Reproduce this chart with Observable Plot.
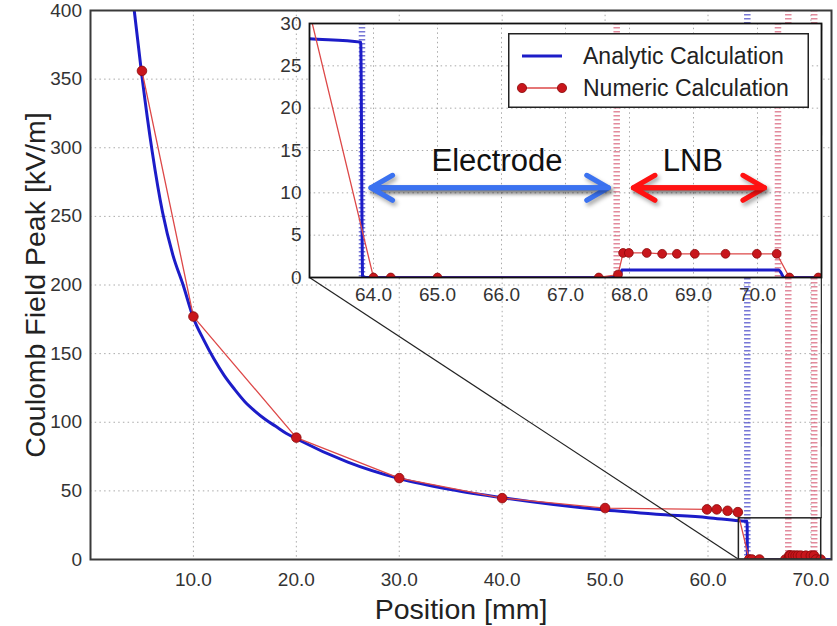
<!DOCTYPE html>
<html>
<head>
<meta charset="utf-8">
<script src="https://cdn.jsdelivr.net/npm/d3@7"></script>
<script src="https://cdn.jsdelivr.net/npm/@observablehq/plot@0.6"></script>
<style>
  html, body { margin: 0; padding: 0; background: white; }
  #wrap { position: relative; width: 837px; height: 626px; font-family: "Liberation Sans", Arial, Helvetica, sans-serif; }
  #wrap svg { position: absolute; }
</style>
</head>
<body>
<div id="wrap"></div>
<script>
// ---------- data ----------
const analyticX = [4.25, 5, 6, 7, 8, 9, 10, 11, 12, 13, 14, 15, 16, 17, 18, 19, 20, 25, 30, 35, 40, 45, 50, 55, 60, 63, 63.8, 63.83, 67.85, 67.88, 70.33, 70.42, 72];
const analyticY = [400, 352, 297, 253, 222, 200, 176, 160, 146, 134, 124, 115, 108, 102, 97, 92, 88, 71, 59, 51, 45, 40, 36, 33, 30.5, 28.2, 27.8, 0, 0, 0.9, 0.9, 0, 0];

const numericX = [5, 10, 20, 30, 40, 50, 59.9, 60.85, 61.9, 62.9, 64.0, 64.27, 65.0, 67.52, 67.82, 67.9, 67.99, 68.27, 68.51, 68.74, 69.02, 69.5, 69.99, 70.3, 70.5, 70.95];
const numericY = [356, 177, 88.8, 59.3, 44.7, 37.5, 36.5, 36.5, 35.5, 34.5, 0, 0, 0, 0, 0.35, 2.9, 2.9, 2.9, 2.8, 2.8, 2.8, 2.8, 2.8, 2.8, 0, 0];

const analyticBoundaries = [63.82];
const numericBoundaries = [67.8, 70.32];

const mainXTicks = [10, 20, 30, 40, 50, 60, 70];
const mainYTicks = [0, 50, 100, 150, 200, 250, 300, 350, 400];
const insetXTicks = [64, 65, 66, 67, 68, 69, 70];
const insetYTicks = [0, 5, 10, 15, 20, 25, 30];

const zoomX = [63, 71];
const zoomY = [0, 30];

const regionLabels = ["Electrode", "LNB"];
const regionLabelX = [65.93, 68.99];
const regionLabelY = [13.8, 13.8];
const arrowStart = [63.96, 68.06];
const arrowEnd = [67.67, 70.11];
const arrowY = [10.6, 10.6];
const arrowColors = ["#3b72f0", "#ff1212"];

const legendLabels = ["Analytic Calculation", "Numeric Calculation"];
const xLabel = "Position [mm]";
const yLabel = "Coulomb Field Peak [kV/m]";

// ---------- styles ----------
const FONT = '"Liberation Sans", Arial, Helvetica, sans-serif';
const BLUE = "#1c1cc8";
const RED_LINE = "#dd4848";
const RED_DOT = "#c8161c";
const GRID = {stroke: "#aaa", strokeOpacity: 1, strokeDasharray: "1.5,3.2", strokeWidth: 1};

const analytic = analyticX.map((x, i) => ({x, y: analyticY[i]}));
const numeric = numericX.map((x, i) => ({x, y: numericY[i]}));

// ---------- layout ----------
const W = 837, H = 626;
const M = {left: 90, right: 6, top: 10, bottom: 67};
const insetBox = {left: 250, top: 0, width: 587, height: 320, ml: 59, mr: 16, mt: 23, mb: 43};

const mainX = d3.scaleLinear([0, 72], [M.left, W - M.right]);
const mainY = d3.scaleLinear([0, 400], [H - M.bottom, M.top]);
// inset frame corners in page pixels -> main data coordinates
const inL = insetBox.left + insetBox.ml, inR = insetBox.left + insetBox.width - insetBox.mr;
const inT = insetBox.top + insetBox.mt, inB = insetBox.top + insetBox.height - insetBox.mb;
const connectors = [
  {x1: zoomX[0], y1: zoomY[0], x2: mainX.invert(inL), y2: mainY.invert(inB)},
  {x1: zoomX[1], y1: zoomY[1], x2: mainX.invert(inR), y2: mainY.invert(inT)}
];

function dashedRules(vals, color, op) {
  return Plot.ruleX(vals, {stroke: color, strokeOpacity: op, strokeWidth: 6.5, strokeDasharray: "1.6,2.4"});
}

const main = Plot.plot({
  width: W, height: H,
  marginLeft: M.left, marginRight: M.right, marginTop: M.top, marginBottom: M.bottom,
  x: {domain: [0, 72]},
  y: {domain: [0, 400]},
  style: {fontFamily: FONT, background: "white", color: "#333"},
  marks: [
    Plot.gridX(mainXTicks, GRID),
    Plot.gridY(mainYTicks.filter(d => d > 0 && d < 400), GRID),
    dashedRules(analyticBoundaries, "#4a4ac8", 0.75),
    dashedRules(numericBoundaries, "#d65a74", 0.7),
    Plot.line(analytic, {x: "x", y: "y", stroke: BLUE, strokeWidth: 3, curve: "monotone-x", clip: true}),
    Plot.line(numeric, {x: "x", y: "y", stroke: RED_LINE, strokeWidth: 1.3, clip: true}),
    Plot.dot(numeric, {x: "x", y: "y", r: 4.8, fill: RED_DOT, stroke: "#8a0a0a", strokeWidth: 0.8, clip: true}),
    Plot.rect([{}], {x1: zoomX[0], x2: zoomX[1], y1: zoomY[0], y2: zoomY[1], fill: "none", stroke: "#222", strokeWidth: 1.5}),
    Plot.link(connectors, {x1: "x1", y1: "y1", x2: "x2", y2: "y2", stroke: "#222", strokeWidth: 1.2}),
    Plot.frame({stroke: "#3a3a3a", strokeWidth: 2}),
    Plot.axisX(mainXTicks, {tickSize: 0, tickPadding: 12.5, tickFormat: d => d.toFixed(1), fontSize: 19, label: null, fill: "#333"}),
    Plot.axisY(mainYTicks, {tickSize: 0, tickPadding: 8.5, fontSize: 19, label: null, fill: "#333"}),
    Plot.text([xLabel], {frameAnchor: "bottom", dy: 50, lineAnchor: "middle", textAnchor: "middle", fontSize: 28.5, fill: "#222"}),
    Plot.text([yLabel], {frameAnchor: "left", dx: -55, rotate: -90, lineAnchor: "middle", textAnchor: "middle", fontSize: 28.5, fill: "#222"})
  ]
});
main.style.left = "0px";
main.style.top = "0px";

const inset = Plot.plot({
  width: insetBox.width, height: insetBox.height,
  marginLeft: insetBox.ml, marginRight: insetBox.mr, marginTop: insetBox.mt, marginBottom: insetBox.mb,
  x: {domain: zoomX},
  y: {domain: zoomY},
  style: {fontFamily: FONT, background: "none", color: "#333"},
  marks: [
    Plot.frame({fill: "white", stroke: "none"}),
    Plot.gridX(insetXTicks, GRID),
    Plot.gridY(insetYTicks.filter(d => d > 0 && d < 30), GRID),
    dashedRules(analyticBoundaries, "#4a4ac8", 0.75),
    dashedRules(numericBoundaries, "#d65a74", 0.7),
    Plot.line(analytic, {x: "x", y: "y", stroke: BLUE, strokeWidth: 3, curve: "monotone-x", clip: true}),
    Plot.line(numeric, {x: "x", y: "y", stroke: RED_LINE, strokeWidth: 1.3, clip: true}),
    Plot.dot(numeric, {x: "x", y: "y", r: 4.4, fill: RED_DOT, stroke: "#8a0a0a", strokeWidth: 0.8, clip: true}),
    Plot.arrow(regionLabels, {x1: (d, i) => arrowStart[i], x2: (d, i) => arrowEnd[i], y1: (d, i) => arrowY[i], y2: (d, i) => arrowY[i], stroke: (d, i) => arrowColors[i], strokeWidth: 5, headLength: 7.5, headAngle: 60, strokeLinecap: "round", strokeLinejoin: "round"}),
    Plot.arrow(regionLabels, {x1: (d, i) => arrowEnd[i], x2: (d, i) => arrowStart[i], y1: (d, i) => arrowY[i], y2: (d, i) => arrowY[i], stroke: (d, i) => arrowColors[i], strokeWidth: 5, headLength: 7.5, headAngle: 60, strokeLinecap: "round", strokeLinejoin: "round"}),
    Plot.text(regionLabels, {x: (d, i) => regionLabelX[i], y: (d, i) => regionLabelY[i], text: d => d, fontSize: 31, fill: "#111"}),
    Plot.frame({stroke: "#111", strokeWidth: 1.8}),
    Plot.axisX(insetXTicks, {tickSize: 0, tickPadding: 10, tickFormat: d => d.toFixed(1), fontSize: 19, label: null, fill: "#333"}),
    Plot.axisY(insetYTicks, {tickSize: 0, tickPadding: 8, fontSize: 19, label: null, fill: "#333"})
  ]
});
inset.style.left = insetBox.left + "px";
inset.style.top = insetBox.top + "px";
inset.querySelectorAll('g[aria-label="arrow"]').forEach(g => {
  g.style.filter = "drop-shadow(2px 3px 2px rgba(0,0,0,0.35))";
});

// ---------- legend ----------
const legW = 301, legH = 75;
const legend = d3.create("svg")
  .attr("width", legW).attr("height", legH)
  .style("left", "508px").style("top", "33px")
  .style("font-family", FONT);
legend.append("rect").attr("x", 0.75).attr("y", 0.75).attr("width", legW - 1.5).attr("height", legH - 1.5)
  .attr("fill", "white").attr("stroke", "#222").attr("stroke-width", 1.5);
legend.append("line").attr("x1", 14).attr("x2", 54).attr("y1", 23).attr("y2", 23).attr("stroke", BLUE).attr("stroke-width", 3);
legend.append("line").attr("x1", 14).attr("x2", 54).attr("y1", 55).attr("y2", 55).attr("stroke", RED_LINE).attr("stroke-width", 1.3);
[14, 54].forEach(cx => legend.append("circle").attr("cx", cx).attr("cy", 55).attr("r", 4.6).attr("fill", RED_DOT).attr("stroke", "#8a0a0a").attr("stroke-width", 0.8));
legendLabels.forEach((t, i) => legend.append("text").attr("x", 75).attr("y", i === 0 ? 23 : 55).attr("dy", "0.35em")
  .attr("font-size", 23).attr("fill", "#222").text(t));

const wrap = document.getElementById("wrap");
wrap.appendChild(main);
wrap.appendChild(inset);
wrap.appendChild(legend.node());
</script>
</body>
</html>
